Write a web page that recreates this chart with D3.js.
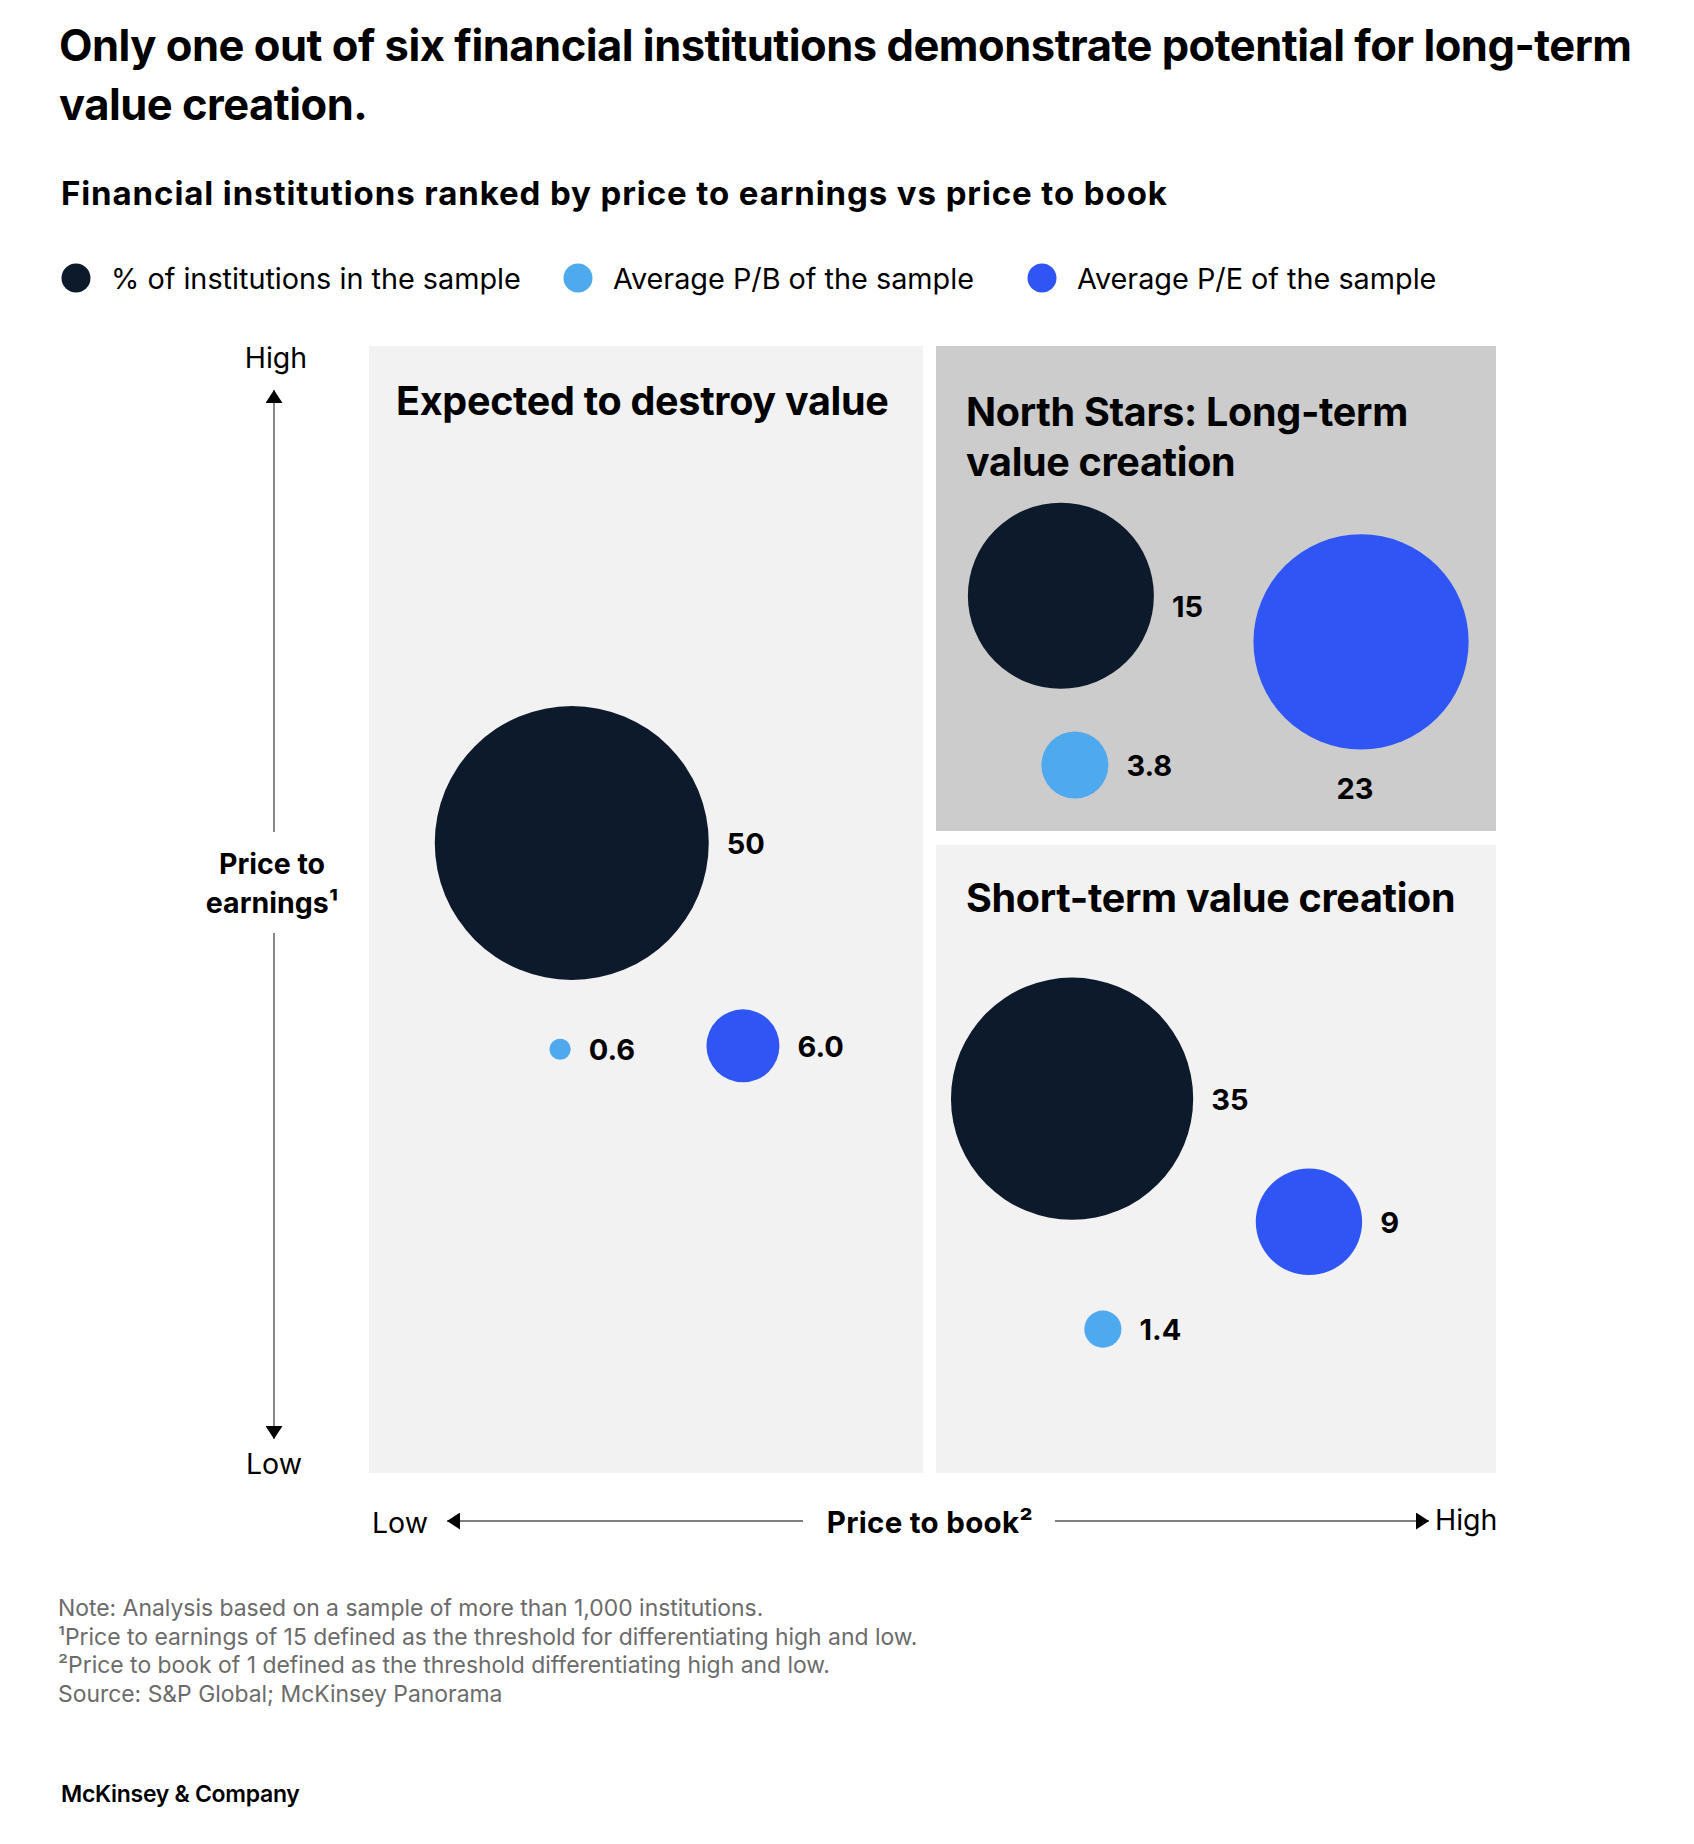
<!DOCTYPE html>
<html>
<head>
<meta charset="utf-8">
<script src="https://cdn.jsdelivr.net/npm/d3@7"></script>
<style>
  body { margin: 0; background: #fff; }
  svg { display: block; }
  text { font-family: Inter, "Noto Sans", sans-serif; fill: #000; }
</style>
</head>
<body>
<svg id="chart" width="1694" height="1844"></svg>
<script>
// Données
const quadrants = ["Expected to destroy value", "North Stars: Long-term value creation", "Short-term value creation"];
const quadrantTitleLines = [["Expected to destroy value"], ["North Stars: Long-term", "value creation"], ["Short-term value creation"]];
const shareOfSample = [50, 15, 35];          // % of institutions in the sample
const avgPB = [0.6, 3.8, 1.4];               // Average P/B of the sample
const avgPE = [6.0, 23, 9];                  // Average P/E of the sample
const shareLabels = ["50", "15", "35"];
const pbLabels = ["0.6", "3.8", "1.4"];
const peLabels = ["6.0", "23", "9"];
const seriesNames = ["% of institutions in the sample", "Average P/B of the sample", "Average P/E of the sample"];
const axisLabels = { low: "Low", high: "High", y: ["Price to", "earnings¹"], x: "Price to book²" };
const notes = [
  "Note: Analysis based on a sample of more than 1,000 institutions.",
  "¹Price to earnings of 15 defined as the threshold for differentiating high and low.",
  "²Price to book of 1 defined as the threshold differentiating high and low.",
  "Source: S&P Global; McKinsey Panorama"
];

// Couleurs
const colors = ["#0d1a2b", "#4ea9ee", "#2f56f5"];
const panelFill = ["#f2f2f2", "#cccccc", "#f2f2f2"];

// Mise en page des panneaux (quadrants)
const panelBoxes = [
  { x: 369, y: 346, w: 554, h: 1127 },
  { x: 936, y: 346, w: 560, h: 485 },
  { x: 936, y: 845, w: 560, h: 628 }
];
// Emplacement relatif des bulles dans chaque panneau [share, pb, pe]
const slots = [
  [[0.366, 0.441], [0.345, 0.624], [0.675, 0.621]],
  [[0.223, 0.515], [0.248, 0.864], [0.759, 0.610]],
  [[0.243, 0.404], [0.298, 0.771], [0.666, 0.600]]
];

const svg = d3.select("#chart");

// Titres
svg.append("g").selectAll("text")
  .data(["Only one out of six financial institutions demonstrate potential for long-term", "value creation."])
  .enter().append("text")
  .attr("x", 59).attr("y", (d, i) => 61 + i * 59)
  .style("font-size", "43.5px").style("font-weight", 700).style("letter-spacing", "-0.5px")
  .text(d => d);
svg.append("text")
  .attr("x", 61).attr("y", 205)
  .style("font-size", "33px").style("font-weight", 700).style("letter-spacing", "0.9px")
  .text("Financial institutions ranked by price to earnings vs price to book");

// Légende
const legendX = [76, 578, 1042];
const legend = svg.append("g").selectAll("g")
  .data(seriesNames)
  .enter().append("g")
  .attr("transform", (d, i) => `translate(${legendX[i]}, 278)`);
legend.append("circle").attr("r", 14.5).attr("fill", (d, i) => colors[i]);
legend.append("text")
  .attr("x", 35).attr("y", 11)
  .style("font-size", "28.8px")
  .text(d => d);

// Panneaux
const panels = svg.append("g").selectAll("g")
  .data(quadrants)
  .enter().append("g");

panels.append("rect")
  .attr("x", (d, i) => panelBoxes[i].x)
  .attr("y", (d, i) => panelBoxes[i].y)
  .attr("width", (d, i) => panelBoxes[i].w)
  .attr("height", (d, i) => panelBoxes[i].h)
  .attr("fill", (d, i) => panelFill[i]);

panels.each(function (d, i) {
  const b = panelBoxes[i];
  const titleX = i === 0 ? b.x + 27 : b.x + 30;
  const titleY = i === 0 ? b.y + 69 : (i === 1 ? b.y + 80 : b.y + 67);
  d3.select(this).selectAll(".qtitle")
    .data(quadrantTitleLines[i])
    .enter().append("text")
    .attr("class", "qtitle")
    .attr("x", titleX)
    .attr("y", (t, j) => titleY + j * 50)
    .style("font-size", "39.5px").style("font-weight", 700).style("letter-spacing", "-0.3px")
    .text(t => t);
});

// Échelles des rayons
const rShare = d3.scaleSqrt().domain(d3.extent(shareOfSample)).range([93, 137]);
const rPB = d3.scaleSqrt().domain(d3.extent(avgPB)).range([10.6, 33.5]);
const rPE = d3.scaleSqrt().domain(d3.extent(avgPE)).range([36.5, 107.6]);

// Construire la table des bulles
const bubbles = [];
quadrants.forEach((q, i) => {
  const b = panelBoxes[i];
  const xs = d3.scaleLinear().domain([0, 1]).range([b.x, b.x + b.w]);
  const ys = d3.scaleLinear().domain([0, 1]).range([b.y, b.y + b.h]);
  [[shareOfSample, rShare, shareLabels], [avgPB, rPB, pbLabels], [avgPE, rPE, peLabels]].forEach((s, k) => {
    bubbles.push({
      cx: xs(slots[i][k][0]),
      cy: ys(slots[i][k][1]),
      r: s[1](s[0][i]),
      color: colors[k],
      label: s[2][i],
      below: i === 1 && k === 2,
      dy: i === 1 && k === 0 ? 10 : 0   // l'étiquette "15" est un peu plus basse
    });
  });
});

const bub = svg.append("g").selectAll("g")
  .data(bubbles)
  .enter().append("g");

bub.append("circle")
  .attr("cx", d => d.cx)
  .attr("cy", d => d.cy)
  .attr("r", d => d.r)
  .attr("fill", d => d.color);

bub.append("text")
  .attr("x", d => d.below ? d.cx - 6 : d.cx + d.r + 18)
  .attr("y", d => d.below ? d.cy + d.r + 50 : d.cy + 11 + d.dy)
  .attr("text-anchor", d => d.below ? "middle" : "start")
  .style("font-size", "29px").style("font-weight", 700)
  .text(d => d.label);

// Flèches des axes
const defs = svg.append("defs");
defs.append("marker")
  .attr("id", "arrow")
  .attr("viewBox", "0 0 13 17")
  .attr("refX", 13).attr("refY", 8.5)
  .attr("markerWidth", 13).attr("markerHeight", 17)
  .attr("markerUnits", "userSpaceOnUse")
  .attr("orient", "auto")
  .append("path").attr("d", "M0,0 L13,8.5 L0,17 Z").attr("fill", "#000");

const axisLine = (x1, y1, x2, y2) => svg.append("line")
  .attr("x1", x1).attr("y1", y1).attr("x2", x2).attr("y2", y2)
  .attr("stroke", "#555").attr("stroke-width", 1.4)
  .attr("marker-end", "url(#arrow)");

// Axe vertical (P/E)
const axX = 274;
axisLine(axX, 832, axX, 390);
axisLine(axX, 933, axX, 1439);
svg.append("text").attr("x", axX + 2).attr("y", 368).attr("text-anchor", "middle")
  .style("font-size", "28.5px").text(axisLabels.high);
svg.append("text").attr("x", axX).attr("y", 1474).attr("text-anchor", "middle")
  .style("font-size", "28.5px").text(axisLabels.low);
svg.append("g").selectAll("text")
  .data(axisLabels.y)
  .enter().append("text")
  .attr("x", axX - 2).attr("y", (d, i) => 874 + i * 39)
  .attr("text-anchor", "middle")
  .style("font-size", "28.5px").style("font-weight", 700)
  .text(d => d);

// Axe horizontal (P/B)
const axY = 1521;
axisLine(803, axY, 447, axY);
axisLine(1055, axY, 1429, axY);
svg.append("text").attr("x", 372).attr("y", axY + 12)
  .style("font-size", "28.5px").text(axisLabels.low);
svg.append("text").attr("x", 1435).attr("y", axY + 9)
  .style("font-size", "28.5px").text(axisLabels.high);
svg.append("text").attr("x", 930).attr("y", axY + 12).attr("text-anchor", "middle")
  .style("font-size", "29.5px").style("font-weight", 700).style("letter-spacing", "0.3px")
  .text(axisLabels.x);

// Notes et source
svg.append("g").selectAll("text")
  .data(notes)
  .enter().append("text")
  .attr("x", 58).attr("y", (d, i) => 1616 + i * 28.5)
  .style("font-size", "22.9px").style("fill", "#6b6b6b")
  .text(d => d);

svg.append("text")
  .attr("x", 61).attr("y", 1802)
  .style("font-size", "23px").style("font-weight", 600).style("letter-spacing", "-0.3px")
  .text("McKinsey & Company");
</script>
</body>
</html>
